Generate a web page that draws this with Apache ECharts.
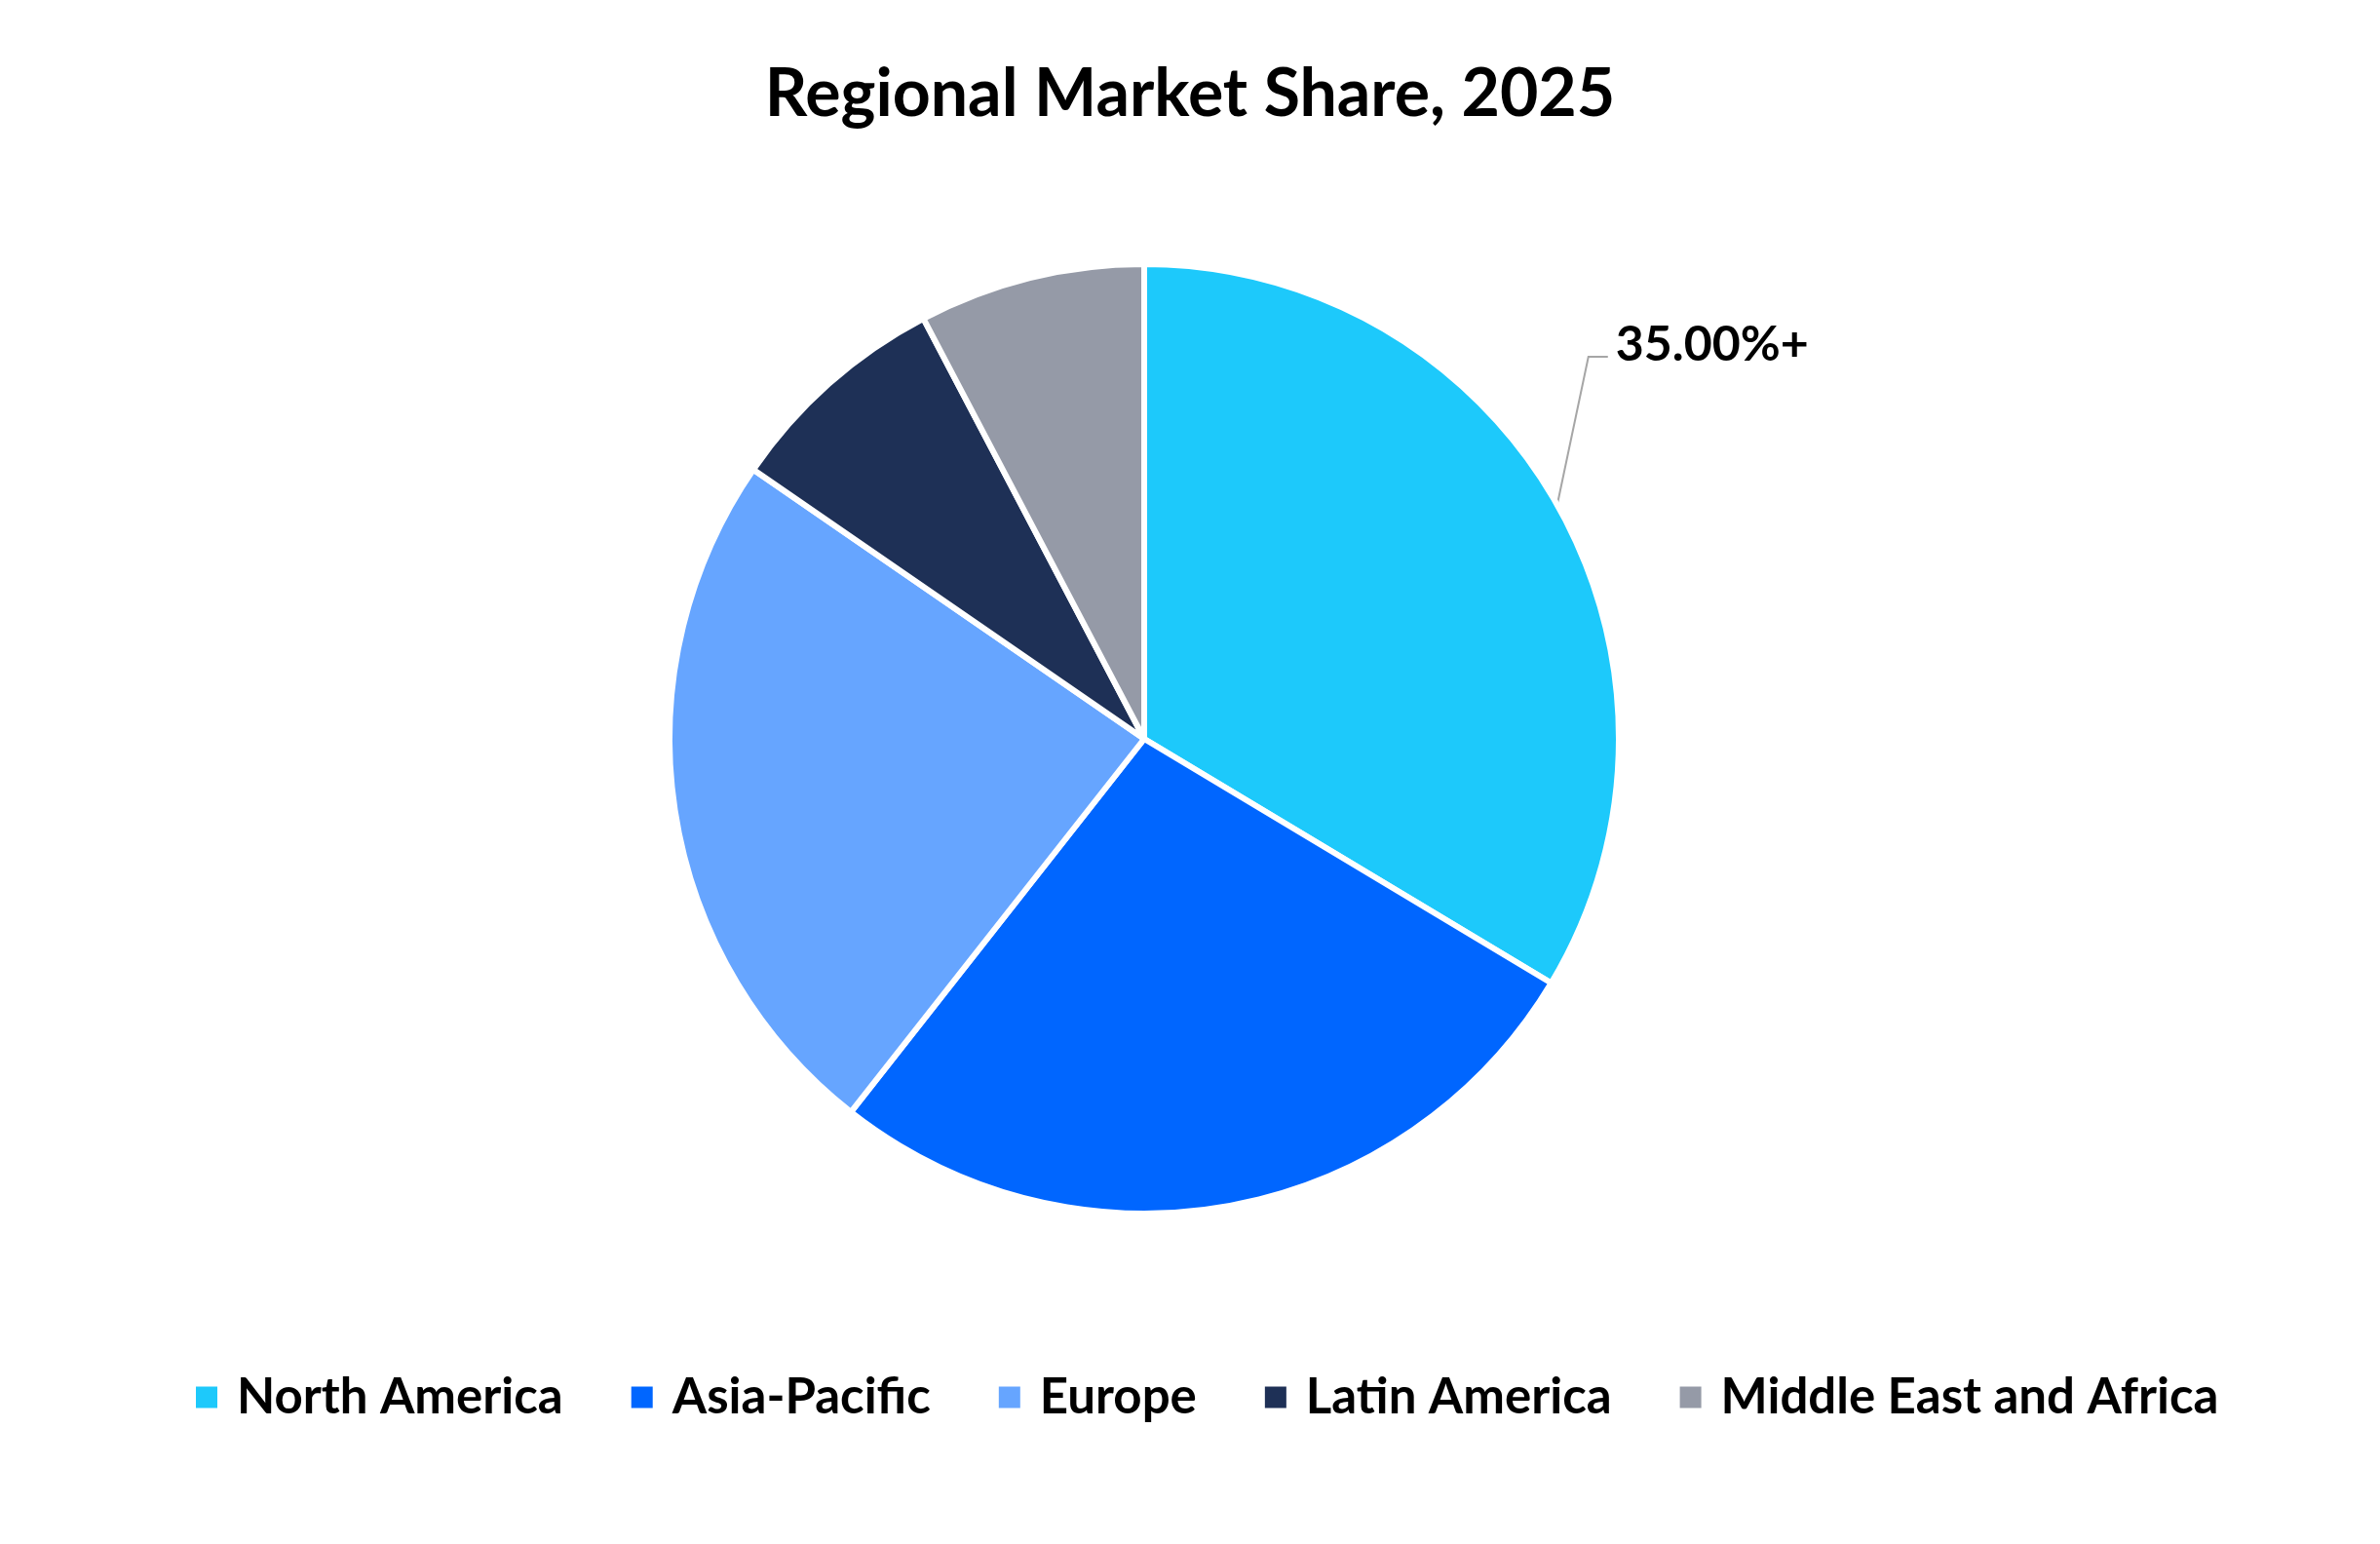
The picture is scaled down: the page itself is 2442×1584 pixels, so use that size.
<!DOCTYPE html>
<html>
<head>
<meta charset="utf-8">
<script src="https://cdn.jsdelivr.net/npm/echarts@6/dist/echarts.min.js"></script>
<style>
  html, body { margin: 0; padding: 0; background: #ffffff; }
  #chart { width: 2442px; height: 1584px; }
</style>
</head>
<body>
<div id="chart"></div>
<script>
const titleText = 'Regional Market Share, 2025';
const regions = ['North America', 'Asia-Pacific', 'Europe', 'Latin America', 'Middle East and Africa'];
const shares = [33.6, 27.0, 24.0, 7.7, 7.7];
const colors = ['#1DC9FB', '#0066FF', '#66A5FF', '#1E3056', '#959AA7'];
const calloutText = ['35.00%+', '', '', '', ''];

const FONT = 'Lato';

const data = regions.map((name, i) => ({
  name: name,
  value: shares[i],
  itemStyle: { color: colors[i] },
  label: calloutText[i] ? { show: true, formatter: calloutText[i] } : { show: false },
  labelLine: { show: !!calloutText[i] }
}));

const chart = echarts.init(document.getElementById('chart'), null, { renderer: 'canvas' });
chart.setOption({
  backgroundColor: '#ffffff',
  animation: false,
  title: {
    text: titleText,
    left: 'center',
    top: 58,
    textStyle: { fontFamily: FONT, fontWeight: 'bold', fontSize: 68, color: '#000000' }
  },
  legend: {
    data: regions,
    left: 199,
    top: 1408,
    padding: 0,
    icon: 'rect',
    itemWidth: 24,
    itemHeight: 24,
    itemGap: 68,
    textStyle: { fontFamily: FONT, fontWeight: 'bold', fontSize: 51, color: '#000000', padding: [0, 0, 0, 14] }
  },
  series: [{
    type: 'pie',
    center: [1174, 758],
    radius: 487,
    startAngle: 90,
    clockwise: true,
    avoidLabelOverlap: false,
    itemStyle: { borderColor: '#ffffff', borderWidth: 6 },
    label: {
      show: true,
      position: 'outside',
      fontFamily: FONT,
      fontWeight: 'bold',
      fontSize: 50,
      color: '#000000'
    },
    labelLine: {
      show: true,
      length: 20,
      length2: 20,
      lineStyle: { color: '#A6A6A6', width: 2 }
    },
    labelLayout: function (params) {
      const pts = params.labelLinePoints;
      if (!pts) return {};
      const p0 = pts[0];
      return {
        x: p0[0] + 60,
        y: p0[1] - 164,
        align: 'left',
        verticalAlign: 'middle',
        labelLinePoints: [
          [p0[0], p0[1]],
          [p0[0] + 32, p0[1] - 152],
          [p0[0] + 52, p0[1] - 152]
        ]
      };
    },
    emphasis: { disabled: true },
    data: data
  }]
});
</script>
</body>
</html>
